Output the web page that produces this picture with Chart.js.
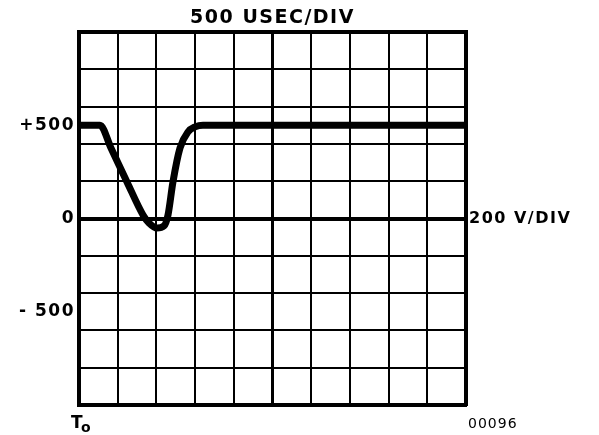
<!DOCTYPE html>
<html>
<head>
<meta charset="utf-8">
<script src="https://cdn.jsdelivr.net/npm/chart.js@4/dist/chart.umd.min.js"></script>
<style>
  html, body { margin: 0; padding: 0; background: #fff; }
  #wrap { width: 599px; height: 435px; }
</style>
</head>
<body>
<div id="wrap"><canvas id="scope"></canvas></div>
<script>
// Trace, time in usec from T0, amplitude in volts
const timeUs = [0, 271, 413, 620, 827, 904, 1008, 1098, 1150, 1214, 1305, 1408, 1499, 1602, 5000];
const volts  = [500, 500, 378, 196, 19, -24, -51, -40, 19, 196, 378, 464, 491, 500, 500];

// Graticule: 10 x 10 divisions, 500 usec and 200 V each
const timeDivs = [0, 500, 1000, 1500, 2000, 2500, 3000, 3500, 4000, 4500, 5000];
const voltDivs = [-1000, -800, -600, -400, -200, 0, 200, 400, 600, 800, 1000];
const voltLabels = { "500": "+500", "0": "0", "-500": "- 500" };

const timeTitle = "500 USEC/DIV";
const voltTitle = "200 V/DIV";
const plateNo = "00096";

const FONT = "'DejaVu Sans', sans-serif";

const fixedSize = (w, h) => (scale) => {
  if (w != null) scale.width = w;
  if (h != null) scale.height = h;
};

// spaced-out lettering plus the T0 and plate number marks
const lettering = {
  id: "lettering",
  beforeDraw(chart) {
    chart.ctx.letterSpacing = "1.5px";
  },
  afterDraw(chart) {
    const { ctx, chartArea } = chart;
    ctx.save();
    ctx.fillStyle = "#000";
    ctx.textBaseline = "alphabetic";
    ctx.letterSpacing = "0px";
    ctx.font = "bold 17px " + FONT;
    ctx.fillText("T", chartArea.left - 8, chartArea.bottom + 23);
    ctx.font = "bold 14px " + FONT;
    ctx.fillText("o", chartArea.left + 2, chartArea.bottom + 27);
    ctx.letterSpacing = "1px";
    ctx.font = "14px " + FONT;
    ctx.fillText(plateNo, chartArea.right + 2, chartArea.bottom + 23);
    ctx.restore();
  }
};

new Chart(document.getElementById("scope"), {
  type: "line",
  data: {
    datasets: [{
      data: timeUs.map((t, i) => ({ x: t, y: volts[i] })),
      borderColor: "#000",
      borderWidth: 7,
      pointRadius: 0,
      cubicInterpolationMode: "monotone",
      clip: false
    }]
  },
  options: {
    responsive: true,
    maintainAspectRatio: false,
    animation: false,
    layout: { padding: 0 },
    plugins: { legend: { display: false }, tooltip: { enabled: false } },
    scales: {
      x: {
        type: "linear",
        position: "bottom",
        min: 0,
        max: 5000,
        afterBuildTicks: (s) => { s.ticks = timeDivs.map((v) => ({ value: v })); },
        afterFit: fixedSize(null, 30),
        ticks: { display: false },
        grid: {
          color: "#000",
          lineWidth: (c) => (c.tick && c.tick.value === 2500 ? 3 : 2),
          drawTicks: false
        },
        border: { display: true, color: "#000", width: 4 }
      },
      xTop: {
        type: "linear",
        position: "top",
        min: 0,
        max: 5000,
        afterBuildTicks: (s) => { s.ticks = [{ value: 2500 }]; },
        afterFit: fixedSize(null, 32),
        ticks: {
          callback: () => timeTitle,
          color: "#000",
          font: { family: FONT, size: 19, weight: "bold" },
          padding: 3,
          maxRotation: 0
        },
        grid: { display: false, drawTicks: false },
        border: { display: true, color: "#000", width: 4 }
      },
      y: {
        type: "linear",
        position: "left",
        min: -1000,
        max: 1000,
        afterBuildTicks: (s) => {
          s.ticks = voltDivs.concat([-500, 500]).sort((a, b) => a - b).map((v) => ({ value: v }));
        },
        afterFit: fixedSize(79, null),
        ticks: {
          autoSkip: false,
          callback: (v) => voltLabels[String(v)] || "",
          color: "#000",
          font: { family: FONT, size: 17, weight: "bold" },
          padding: 4
        },
        grid: {
          color: (c) => (c.tick && Math.abs(c.tick.value) === 500 ? "rgba(0,0,0,0)" : "#000"),
          lineWidth: (c) => (c.tick && c.tick.value === 0 ? 4 : 2),
          drawTicks: false
        },
        border: { display: true, color: "#000", width: 4 }
      },
      yRight: {
        type: "linear",
        position: "right",
        min: -1000,
        max: 1000,
        afterBuildTicks: (s) => { s.ticks = [{ value: 0 }]; },
        afterFit: fixedSize(133, null),
        ticks: {
          callback: () => voltTitle,
          color: "#000",
          font: { family: FONT, size: 16, weight: "bold" },
          padding: 3
        },
        grid: { display: false, drawTicks: false },
        border: { display: true, color: "#000", width: 4 }
      }
    }
  },
  plugins: [lettering]
});
</script>
</body>
</html>
